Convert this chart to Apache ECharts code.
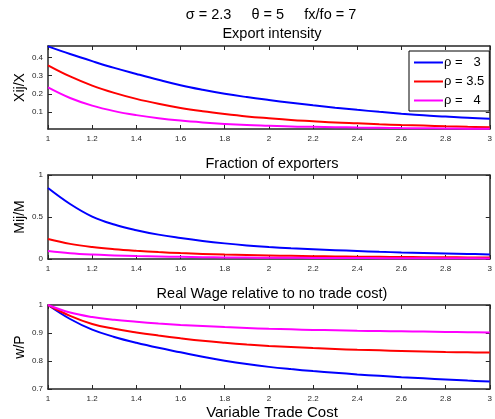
<!DOCTYPE html>
<html>
<head>
<meta charset="utf-8">
<script src="https://cdn.jsdelivr.net/npm/echarts@6/dist/echarts.min.js"></script>
<style>
html,body{margin:0;padding:0;background:#fff;}
#c{width:495px;height:419px;}
</style>
</head>
<body>
<div id="c"></div>
<script>
// ---- data ----
var tradeCost = [1.0,1.1,1.2,1.3,1.4,1.5,1.6,1.7,1.8,1.9,2.0,2.1,2.2,2.3,2.4,2.5,2.6,2.7,2.8,2.9,3.0];
var seriesNames = ['ρ =   3', 'ρ = 3.5', 'ρ =   4'];
var xTickLabels = ['1','1.2','1.4','1.6','1.8','2','2.2','2.4','2.6','2.8','3'];

// Export intensity Xij/X
var exportRho3   = [0.460,0.418,0.379,0.342,0.309,0.277,0.247,0.222,0.200,0.182,0.166,0.151,0.137,0.124,0.112,0.101,0.091,0.082,0.075,0.068,0.063];
var exportRho35  = [0.356,0.295,0.245,0.205,0.172,0.145,0.122,0.104,0.089,0.076,0.066,0.057,0.050,0.043,0.038,0.033,0.029,0.026,0.022,0.019,0.017];
var exportRho4   = [0.235,0.177,0.135,0.105,0.083,0.066,0.053,0.043,0.035,0.029,0.025,0.021,0.019,0.017,0.015,0.014,0.012,0.011,0.010,0.009,0.008];
var exportYTicks = [0.1,0.2,0.3,0.4];

// Fraction of exporters Mij/M
var fracRho3  = [0.845,0.655,0.505,0.410,0.343,0.290,0.250,0.215,0.186,0.162,0.143,0.128,0.116,0.105,0.095,0.086,0.078,0.071,0.065,0.060,0.055];
var fracRho35 = [0.237,0.180,0.142,0.116,0.097,0.082,0.070,0.061,0.053,0.047,0.042,0.038,0.034,0.031,0.028,0.026,0.024,0.022,0.020,0.019,0.017];
var fracRho4  = [0.095,0.069,0.053,0.043,0.035,0.030,0.026,0.022,0.019,0.017,0.015,0.014,0.013,0.012,0.011,0.010,0.009,0.009,0.008,0.008,0.007];

// Real wage w/P
var wageRho3  = [1.000,0.950,0.912,0.886,0.865,0.847,0.831,0.815,0.801,0.789,0.779,0.771,0.764,0.758,0.752,0.747,0.742,0.738,0.734,0.730,0.727];
var wageRho35 = [1.000,0.961,0.932,0.915,0.902,0.891,0.881,0.872,0.865,0.859,0.854,0.850,0.846,0.843,0.840,0.838,0.836,0.834,0.832,0.831,0.830];
var wageRho4  = [1.000,0.973,0.957,0.947,0.940,0.934,0.929,0.925,0.921,0.918,0.915,0.913,0.911,0.910,0.908,0.907,0.906,0.905,0.904,0.903,0.902];

var colors = ['#0000ff', '#ff0000', '#ff00ff'];

function pairs(ys){ return tradeCost.map(function(x,i){ return [x, ys[i]]; }); }

var axisColor = '#262626';
var fam = 'Liberation Sans, Arial, sans-serif';
var labelFont = {fontFamily:fam, fontSize:8, color:axisColor};

var grids = [
  {left:48, top:46, width:448, height:83},
  {left:48, top:175, width:448, height:84},
  {left:48, top:305, width:448, height:84}
];

var xAxes = [], yAxes = [], series = [];
var panels = [
  {data:[exportRho3, exportRho35, exportRho4], min:0.007, max:0.462, ticks:exportYTicks, name:'Xij/X'},
  {data:[fracRho3, fracRho35, fracRho4], min:0, max:1, interval:0.5, name:'Mij/M'},
  {data:[wageRho3, wageRho35, wageRho4], min:0.7, max:1, interval:0.1, name:'w/P'}
];

panels.forEach(function(p, g){
  xAxes.push({
    gridIndex:g, type:'value', min:1, max:3, interval:0.2, position:'bottom',
    axisLine:{show:true, onZero:false, lineStyle:{color:axisColor, width:1.5}},
    axisTick:{show:true, inside:true, length:4, lineStyle:{color:axisColor, width:1}},
    axisLabel:Object.assign({margin:6, formatter:function(v){ return xTickLabels[Math.round((v-1)/0.2)]; }}, labelFont),
    splitLine:{show:false}
  });
  xAxes.push({
    gridIndex:g, type:'value', min:1, max:3, interval:0.2, position:'top',
    axisLine:{show:true, onZero:false, lineStyle:{color:axisColor, width:1.5}},
    axisTick:{show:true, inside:true, length:4, lineStyle:{color:axisColor, width:1}},
    axisLabel:{show:false}, splitLine:{show:false}
  });
  var yl = {
    gridIndex:g, type:'value', min:p.min, max:p.max, position:'left',
    name:p.name, nameLocation:'middle', nameGap:21, nameRotate:90, nameMoveOverlap:false,
    nameTextStyle:{fontFamily:fam, fontSize:14, color:'#000'},
    axisLine:{show:true, onZero:false, lineStyle:{color:axisColor, width:1.5}},
    axisTick:{show:true, inside:true, length:4, lineStyle:{color:axisColor, width:1}},
    axisLabel:Object.assign({margin:5}, labelFont),
    splitLine:{show:false}
  };
  var yr = {
    gridIndex:g, type:'value', min:p.min, max:p.max, position:'right',
    axisLine:{show:true, onZero:false, lineStyle:{color:axisColor, width:1.5}},
    axisTick:{show:true, inside:true, length:4, lineStyle:{color:axisColor, width:1}},
    axisLabel:{show:false}, splitLine:{show:false}
  };
  if (p.ticks) {
    yl.axisLabel.customValues = p.ticks; yl.axisTick.customValues = p.ticks;
    yr.axisTick.customValues = p.ticks;
  } else {
    yl.interval = p.interval; yr.interval = p.interval;
  }
  yAxes.push(yl); yAxes.push(yr);
  p.data.forEach(function(ys, k){
    series.push({
      type:'line', name:seriesNames[k], xAxisIndex:2*g, yAxisIndex:2*g,
      data:pairs(ys), symbol:'none', showSymbol:false, smooth:0.4,
      lineStyle:{color:colors[k], width:2}, itemStyle:{color:colors[k]}, z:3
    });
  });
});

var titleFont = {fontFamily:fam, fontSize:14.5, fontWeight:'normal', color:'#000'};
var option = {
  animation:false,
  backgroundColor:'#fff',
  title:[
    {text:'σ = 2.3     θ = 5     fx/fo = 7', left:271, top:7, textAlign:'center', padding:0, textStyle:titleFont},
    {text:'Export intensity', left:272, top:26, textAlign:'center', padding:0, textStyle:titleFont},
    {text:'Fraction of exporters', left:272, top:156, textAlign:'center', padding:0, textStyle:titleFont},
    {text:'Real Wage relative to no trade cost)', left:272, top:286, textAlign:'center', padding:0, textStyle:titleFont},
    {text:'Variable Trade Cost', left:272, top:405, textAlign:'center', padding:0, textStyle:{fontFamily:fam, fontSize:15, fontWeight:'normal', color:'#000'}}
  ],
  legend:{
    data:seriesNames, orient:'vertical', left:409, top:51,
    icon:'rect', padding:[5,5,4,5], itemGap:6, itemWidth:29, itemHeight:2,
    backgroundColor:'#fff', borderColor:'#000', borderWidth:1, borderRadius:0,
    textStyle:{fontFamily:fam, fontSize:13, color:'#000', padding:[0,0,0,-4], lineHeight:12},
    selectedMode:false
  },
  grid:grids,
  xAxis:xAxes,
  yAxis:yAxes,
  series:series
};
var chart = echarts.init(document.getElementById('c'), null, {renderer:'canvas'});
chart.setOption(option);
</script>
</body>
</html>
